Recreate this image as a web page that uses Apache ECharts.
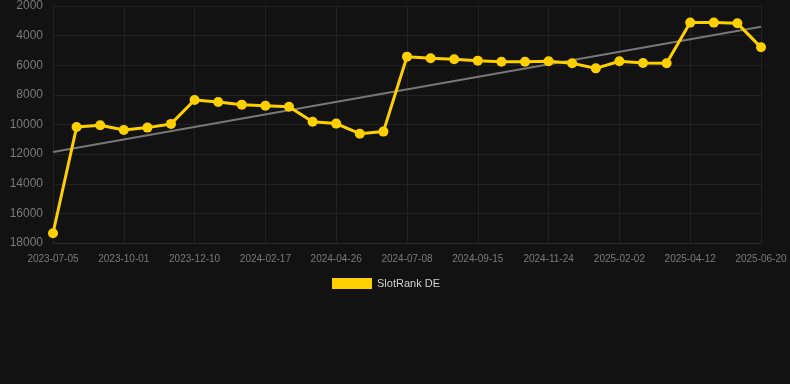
<!DOCTYPE html>
<html><head><meta charset="utf-8">
<script src="https://cdn.jsdelivr.net/npm/echarts@6/dist/echarts.min.js"></script>
<style>html,body{margin:0;padding:0;background:#121212;}#c{width:790px;height:384px;}</style>
</head><body><div id="c"></div>
<script>
var categories = ["2023-07-05","2023-08-03","2023-09-01","2023-10-01","2023-10-24","2023-11-17","2023-12-10","2024-01-02","2024-01-25","2024-02-17","2024-03-11","2024-04-03","2024-04-26","2024-05-20","2024-06-14","2024-07-08","2024-07-31","2024-08-23","2024-09-15","2024-10-08","2024-11-01","2024-11-24","2024-12-17","2025-01-09","2025-02-02","2025-02-25","2025-03-20","2025-04-12","2025-05-05","2025-05-28","2025-06-20"];
var slotRankDE = [17340,10170,10050,10370,10210,9960,8350,8480,8660,8730,8800,9810,9940,10620,10480,5420,5530,5600,5690,5760,5760,5730,5870,6210,5730,5850,5870,3120,3120,3170,4790];
var trendStart = 11850;
var trendEnd = 3400;
var yTicks = [2000,4000,6000,8000,10000,12000,14000,16000,18000];

var chart = echarts.init(document.getElementById('c'), null, {renderer:'canvas'});
chart.setOption({
  backgroundColor: '#121212',
  animation: false,
  grid: {left: 53, right: 29, top: 6, bottom: 141, containLabel: false},
  legend: {
    data: ['SlotRank DE'],
    left: 327, top: 273,
    icon: 'rect', itemWidth: 40, itemHeight: 11, itemGap: 10,
    textStyle: {color: '#d0d0d0', fontSize: 11, fontFamily: 'Liberation Sans, Arial, sans-serif'}
  },
  xAxis: {
    type: 'category', data: categories, boundaryGap: false,
    axisLine: {show: true, lineStyle: {color: '#2a2a2a'}},
    axisTick: {show: false},
    axisLabel: {interval: 2, color: '#7a7a7a', fontSize: 10, margin: 11, fontFamily: 'Liberation Sans, Arial, sans-serif'},
    splitLine: {show: true, interval: 2, lineStyle: {color: '#222222', width: 1}}
  },
  yAxis: {
    type: 'value', inverse: true, min: yTicks[0], max: yTicks[yTicks.length-1], interval: 2000,
    axisLine: {show: false}, axisTick: {show: false},
    axisLabel: {color: '#7a7a7a', fontSize: 12, margin: 10, fontFamily: 'Liberation Sans, Arial, sans-serif',
      formatter: function (v) { return String(v); }},
    splitLine: {show: true, lineStyle: {color: '#222222', width: 1}}
  },
  series: [
    {
      name: 'SlotRank DE', type: 'line', data: slotRankDE,
      symbol: 'circle', symbolSize: 10, z: 3,
      itemStyle: {color: '#FFD000'},
      lineStyle: {color: '#FFD000', width: 3}
    },
    {
      name: 'trend', type: 'line',
      data: [[0, trendStart], [categories.length-1, trendEnd]],
      symbol: 'none', z: 2, silent: true,
      lineStyle: {color: '#777777', width: 2}
    }
  ]
});
</script></body></html>
